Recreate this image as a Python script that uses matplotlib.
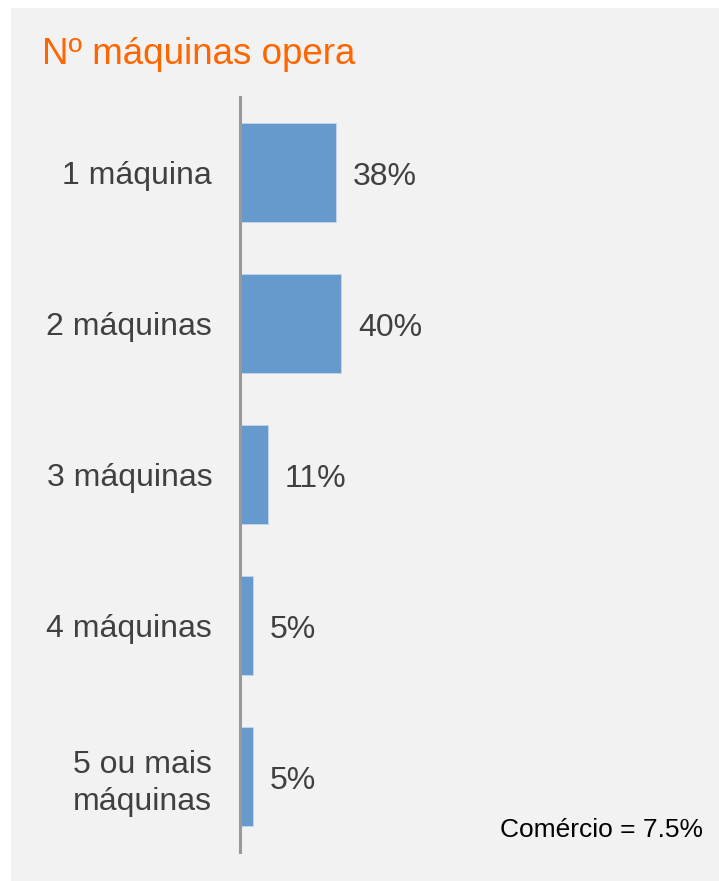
import matplotlib.pyplot as plt
from matplotlib.patches import Rectangle

plt.rcParams['font.family'] = ['Liberation Sans', 'DejaVu Sans']

# dados
categorias = ["1 máquina", "2 máquinas", "3 máquinas", "4 máquinas", "5 ou mais\nmáquinas"]
valores = [38, 40, 11, 5, 5]
rotulos = ["38%", "40%", "11%", "5%", "5%"]
titulo = "Nº máquinas opera"
nota = "Comércio = 7.5%"

W, H = 719, 881
fig = plt.figure(figsize=(W / 100, H / 100), dpi=100, facecolor="white")

# painel cinzento de fundo
fig.patches.append(Rectangle((11 / W, 0), 1 - 11 / W, 1 - 8 / H,
                             transform=fig.transFigure, facecolor="#f2f2f2",
                             edgecolor="none", zorder=-10))

ax = fig.add_axes([240 / W, 1 - 852 / H, 253 / W, (852 - 97) / H])
ax.set_facecolor("none")
ax.set_zorder(5)

y = list(range(len(categorias)))
ax.barh(y, valores, height=0.66, color="#6699cc", edgecolor="#c5d6ea", linewidth=0.6)
ax.set_ylim(len(categorias) - 0.5, -0.5)
ax.set_xlim(0, 100)

ax.set_yticks(y)
ax.set_yticklabels(categorias, fontsize=23, color="#404040", ha="right")
for t in ax.get_yticklabels():
    t.set_linespacing(1.3)
ax.tick_params(axis="y", length=0, pad=20)
ax.set_xticks([])
for s in ["top", "right", "bottom"]:
    ax.spines[s].set_visible(False)
ax.spines["left"].set_color("#999999")
ax.spines["left"].set_linewidth(2.2)

for yi, v, r in zip(y, valores, rotulos):
    ax.annotate(r, (v, yi), xytext=(12, -3), textcoords="offset points",
                ha="left", va="center", fontsize=23, color="#404040")

fig.text(42 / W, 1 - 64 / H, titulo, fontsize=26.5, color="#ff6600",
         ha="left", va="baseline")
fig.text(703 / W, 1 - 837 / H, nota, fontsize=19, color="black",
         ha="right", va="baseline")

fig.savefig("out.png", dpi=100, facecolor="white")
